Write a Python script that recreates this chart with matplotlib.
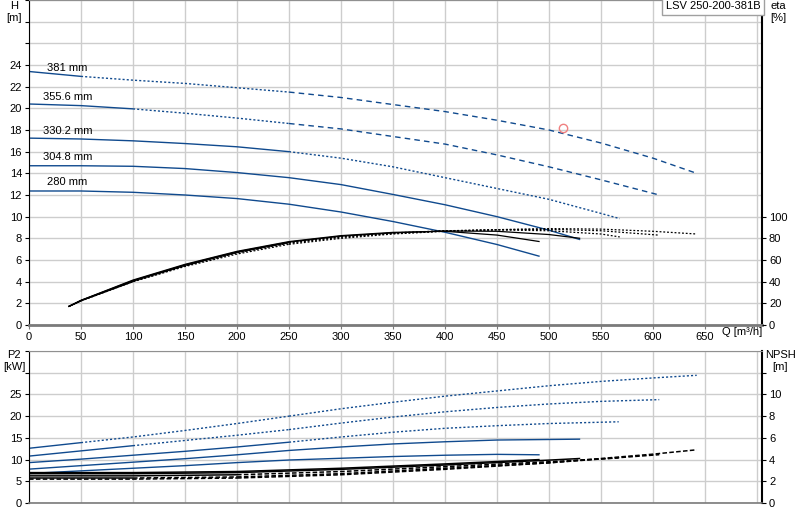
import numpy as np
import matplotlib
matplotlib.use("Agg")
import matplotlib.pyplot as plt

plt.rcParams['font.family'] = ['Liberation Sans', 'DejaVu Sans']
plt.rcParams['font.size'] = 8

# impeller diameters
diam = ["280 mm", "304.8 mm", "330.2 mm", "355.6 mm", "381 mm"]

# head H [m] vs Q [m3/h]
q_h_280 = [0, 50, 100, 150, 200, 250, 300, 350, 400, 450, 491]
h_280 = [12.37, 12.37, 12.25, 12.0, 11.67, 11.15, 10.43, 9.55, 8.56, 7.43, 6.34]
q_h_305 = [0, 50, 100, 150, 200, 250, 300, 350, 400, 450, 500, 530]
h_305 = [14.7, 14.7, 14.65, 14.44, 14.07, 13.6, 12.96, 12.05, 11.1, 10.0, 8.75, 7.88]
q_h_330 = [0, 50, 100, 150, 200, 250, 300, 350, 400, 450, 500, 550, 568]
h_330 = [17.25, 17.17, 17.0, 16.75, 16.45, 16.0, 15.4, 14.6, 13.6, 12.6, 11.6, 10.3, 9.82]
q_h_356 = [0, 50, 100, 150, 200, 250, 300, 350, 400, 450, 500, 550, 606]
h_356 = [20.4, 20.25, 19.95, 19.55, 19.1, 18.6, 18.1, 17.4, 16.7, 15.7, 14.6, 13.4, 12.0]
q_h_381 = [0, 50, 100, 150, 200, 250, 300, 350, 400, 450, 500, 550, 600, 642]
h_381 = [23.4, 22.95, 22.6, 22.3, 21.9, 21.5, 21.0, 20.35, 19.7, 18.9, 18.0, 16.8, 15.4, 14.0]

# efficiency eta [%]
q_e_280 = [38, 50, 100, 150, 200, 250, 300, 350, 400, 450, 491]
e_280 = [17, 22.8, 41.5, 56, 68, 77, 82.5, 85.5, 86.5, 83, 77]
q_e_305 = [38, 50, 100, 150, 200, 250, 300, 350, 400, 450, 500, 530]
e_305 = [17, 22.7, 41, 55.5, 67.5, 76.5, 82, 85, 86.8, 86.5, 83.5, 80]
q_e_330 = [38, 50, 100, 150, 200, 250, 300, 350, 400, 450, 500, 550, 568]
e_330 = [17, 22.5, 40.5, 55, 67, 76, 81.5, 85, 87, 87.8, 87, 84, 81.3]
q_e_356 = [38, 50, 100, 150, 200, 250, 300, 350, 400, 450, 500, 550, 605]
e_356 = [17, 22.4, 40, 54.5, 66.5, 75.5, 81, 84.5, 86.8, 88, 88.3, 87, 83]
q_e_381 = [38, 50, 100, 150, 200, 250, 300, 350, 400, 450, 500, 550, 600, 642]
e_381 = [17, 22.2, 40, 54, 65.5, 74.5, 80, 84, 86.5, 88, 89, 88.5, 86.5, 84]

# power P2 [kW]
q_p_280 = [0, 50, 100, 150, 200, 250, 300, 350, 400, 450, 491]
p_280 = [6.8, 7.4, 8.0, 8.6, 9.3, 9.9, 10.3, 10.7, 11.0, 11.2, 11.1]
q_p_305 = [0, 50, 100, 150, 200, 250, 300, 350, 400, 450, 491, 530]
p_305 = [7.8, 8.6, 9.4, 10.2, 11.1, 12.1, 12.9, 13.6, 14.1, 14.5, 14.6, 14.7]
q_p_330 = [0, 50, 100, 150, 200, 250, 300, 350, 400, 450, 500, 567]
p_330 = [9.3, 10.1, 11.0, 11.9, 12.9, 14.0, 15.2, 16.3, 17.2, 17.8, 18.3, 18.7]
q_p_356 = [0, 50, 100, 150, 200, 250, 300, 350, 400, 450, 500, 550, 606]
p_356 = [10.8, 12.0, 13.2, 14.4, 15.6, 16.9, 18.4, 19.8, 21.0, 22.0, 22.8, 23.4, 23.8]
q_p_381 = [0, 50, 100, 150, 200, 250, 300, 350, 400, 450, 500, 550, 600, 642]
p_381 = [12.6, 13.9, 15.2, 16.7, 18.3, 20.0, 21.7, 23.2, 24.6, 25.8, 27.0, 28.0, 28.8, 29.4]

# NPSH [m]
q_n_280 = [0, 100, 200, 300, 400, 491]
n_280 = [2.8, 2.8, 2.9, 3.2, 3.6, 4.0]
q_n_305 = [0, 100, 200, 300, 400, 500, 530]
n_305 = [2.7, 2.7, 2.8, 3.1, 3.5, 3.95, 4.1]
q_n_330 = [0, 100, 200, 300, 400, 500, 567]
n_330 = [2.5, 2.5, 2.6, 2.9, 3.35, 3.8, 4.15]
q_n_356 = [0, 100, 200, 300, 400, 500, 606]
n_356 = [2.3, 2.3, 2.4, 2.7, 3.2, 3.7, 4.45]
q_n_381 = [0, 100, 200, 300, 400, 500, 600, 642]
n_381 = [2.2, 2.2, 2.3, 2.6, 3.1, 3.7, 4.5, 4.9]

# duty point
q_duty = [513]
h_duty = [18.2]

# where curves change from solid -> dotted -> dashed (Q)
brk = [(None, None), (None, None), (250, None), (100, 250), (50, 250)]

BLUE = '#104a8e'
GRID = '#cdcdcd'


def styled(ax, q, y, b, col, styles, lw=1.0):
    q = np.asarray(q, float)
    y = np.asarray(y, float)
    cuts = [0]
    for v in b:
        if v is not None:
            cuts.append(int(np.argmin(np.abs(q - v))))
    cuts.append(len(q) - 1)
    for k in range(len(cuts) - 1):
        i, j = cuts[k], cuts[k + 1]
        if j <= i:
            continue
        ax.plot(q[i:j + 1], y[i:j + 1], color=col, lw=lw, linestyle=styles[k], solid_capstyle='butt')


fig = plt.figure(figsize=(8, 5.2), dpi=100)
ax1 = fig.add_axes([29 / 800, 195 / 520, 733 / 800, 325 / 520])
ax2 = fig.add_axes([29 / 800, 17 / 520, 733 / 800, 152 / 520])

for ax in (ax1, ax2):
    ax.set_xlim(0, 704.8)
    ax.set_xticks(np.arange(0, 701, 50))
    ax.grid(True, color=GRID, lw=1)
    ax.set_axisbelow(True)
    ax.spines['left'].set_color('black')
    ax.spines['right'].set_color('black')
    ax.spines['right'].set_linewidth(1.5)
    ax.spines['top'].set_color('#909090')
    ax.spines['bottom'].set_color('#7a7a7a')
    ax.spines['bottom'].set_linewidth(2)
    ax.tick_params(axis='y', length=3, pad=2, labelsize=8)
    ax.tick_params(axis='x', length=3, color='#7a7a7a', pad=2, labelsize=8)

# ---- top: H and eta
ax1.set_ylim(0, 30)
ax1.set_yticks(np.arange(0, 31, 2))
ax1.set_yticklabels([str(v) if v <= 24 else '' for v in range(0, 31, 2)])
ax1.set_xticklabels([str(v) if v <= 650 else '' for v in range(0, 701, 50)])

qh = [q_h_280, q_h_305, q_h_330, q_h_356, q_h_381]
hh = [h_280, h_305, h_330, h_356, h_381]
for i in range(5):
    styled(ax1, qh[i], hh[i], brk[i], BLUE, ['-', (0, (1.5, 1.5)), (0, (4, 3))])

lab_pos = [(17, 13.2), (13.5, 15.5), (13.5, 17.9), (13.5, 21.0), (17, 23.7)]
for i in range(5):
    ax1.text(lab_pos[i][0], lab_pos[i][1], diam[i], fontsize=8, va='center', ha='left')

ax1.plot(q_duty, h_duty, 'o', ms=6, mfc='none', mec='#f08080', mew=1)

ax1e = ax1.twinx()
ax1e.set_xlim(0, 704.8)
ax1e.set_ylim(0, 300)
ax1e.set_yticks(np.arange(0, 101, 20))
ax1e.tick_params(axis='y', length=3, pad=2, labelsize=8)
for s in ax1e.spines.values():
    s.set_visible(False)
qe = [q_e_280, q_e_305, q_e_330, q_e_356, q_e_381]
ee = [e_280, e_305, e_330, e_356, e_381]
for i in range(5):
    styled(ax1e, qe[i], ee[i], brk[i], 'black', ['-', (0, (1.5, 1.5)), (0, (1.5, 1.5))], lw=0.9)

ax1.text(0.998, 0.997, 'LSV 250-200-381B', transform=ax1.transAxes, ha='right', va='top', fontsize=8,
         bbox=dict(boxstyle='square,pad=0.35', fc='white', ec='#a0a0a0', lw=1))

fig.text(14 / 800, 1 - 6 / 520, 'H', ha='center', va='center', fontsize=8)
fig.text(14 / 800, 1 - 18 / 520, '[m]', ha='center', va='center', fontsize=8)
fig.text(778 / 800, 1 - 6 / 520, 'eta', ha='center', va='center', fontsize=8)
fig.text(778 / 800, 1 - 18 / 520, '[%]', ha='center', va='center', fontsize=8)
fig.text(722 / 800, 1 - 332 / 520, 'Q [m³/h]', ha='left', va='center', fontsize=8)

# ---- bottom: P2 and NPSH
ax2.set_ylim(0, 35)
ax2.set_yticks(np.arange(0, 36, 5))
ax2.set_yticklabels([str(v) if v <= 25 else '' for v in range(0, 36, 5)])
ax2.set_xticklabels([])
ax2.tick_params(axis='x', length=0)
ax2.spines['bottom'].set_linewidth(1.2)

qp = [q_p_280, q_p_305, q_p_330, q_p_356, q_p_381]
pp = [p_280, p_305, p_330, p_356, p_381]
for i in range(5):
    styled(ax2, qp[i], pp[i], brk[i], BLUE, ['-', (0, (1.5, 1.5)), (0, (1.5, 1.5))])

ax2n = ax2.twinx()
ax2n.set_xlim(0, 704.8)
ax2n.set_ylim(0, 14)
ax2n.set_yticks(np.arange(0, 13, 2))
ax2n.set_yticklabels([str(v) if v <= 10 else '' for v in range(0, 13, 2)])
ax2n.tick_params(axis='y', length=3, pad=2, labelsize=8)
for s in ax2n.spines.values():
    s.set_visible(False)
qn = [q_n_280, q_n_305, q_n_330, q_n_356, q_n_381]
nn = [n_280, n_305, n_330, n_356, n_381]
for i in range(5):
    styled(ax2n, qn[i], nn[i], brk[i], 'black', ['-', (0, (3, 1.5)), (0, (3, 1.5))], lw=1.1)

fig.text(14 / 800, 1 - 355 / 520, 'P2', ha='center', va='center', fontsize=8)
fig.text(14 / 800, 1 - 367 / 520, '[kW]', ha='center', va='center', fontsize=8)
fig.text(780 / 800, 1 - 355 / 520, 'NPSH', ha='center', va='center', fontsize=8)
fig.text(780 / 800, 1 - 367 / 520, '[m]', ha='center', va='center', fontsize=8)

fig.savefig('out.png', dpi=100)
